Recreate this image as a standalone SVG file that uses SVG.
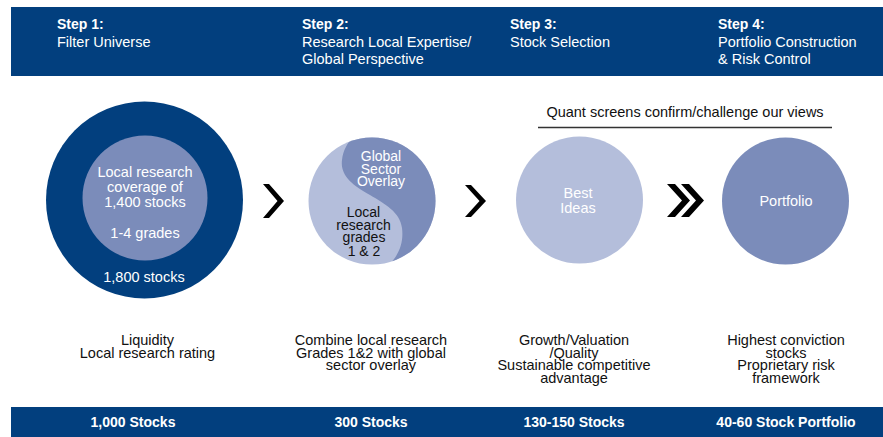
<svg xmlns="http://www.w3.org/2000/svg" width="883" height="437" viewBox="0 0 883 437">
<style>
text{font-family:"Liberation Sans",Arial,sans-serif;font-size:14.5px}
.w{fill:#ffffff}
.k{fill:#111111}
.b{font-weight:bold;font-size:14px}
.c{text-anchor:middle}
.t{font-size:14px}
.navy{fill:#023f7e}
.mid{fill:#7b8cba}
.lite{fill:#b4bedb}
.chev{fill:#000000}
</style>
<defs>
<clipPath id="c2clip"><circle cx="372" cy="201" r="63.5"/></clipPath>
</defs>
<rect width="883" height="437" fill="#ffffff"/>
<g id="header">
<rect class="navy" x="11" y="7" width="872" height="69"/>
<text class="w b" x="57" y="29">Step 1:</text>
<text class="w" x="57" y="47">Filter Universe</text>
<text class="w b" x="302" y="29">Step 2:</text>
<text class="w" x="302" y="47">Research Local Expertise/</text>
<text class="w" x="302" y="64">Global Perspective</text>
<text class="w b" x="510" y="29">Step 3:</text>
<text class="w" x="510" y="47">Stock Selection</text>
<text class="w b" x="718" y="29">Step 4:</text>
<text class="w" x="718" y="47">Portfolio Construction</text>
<text class="w" x="718" y="64">&amp; Risk Control</text>
</g>
<g id="node1">
<circle class="navy" cx="144.5" cy="200" r="98.5"/>
<circle class="mid" cx="145" cy="198" r="62.5"/>
<text class="w c" x="145" y="177">Local research</text>
<text class="w c" x="145" y="192">coverage of</text>
<text class="w c" x="145" y="207">1,400 stocks</text>
<text class="w c" x="145" y="238">1-4 grades</text>
<text class="w c" x="144" y="282">1,800 stocks</text>
</g>
<g id="node2">
<circle class="lite" cx="372" cy="201" r="63.5"/>
<path class="mid" clip-path="url(#c2clip)" d="M354,136 L460,110 L460,300 L388,266 C398,256 404,244 402,228 C400,212 385,204 370,195 C352,185 340,175 342,160 C343,150 348,142 354,136 Z"/>
<text class="w c t" x="381" y="161">Global</text>
<text class="w c t" x="381" y="173.5">Sector</text>
<text class="w c t" x="381" y="186">Overlay</text>
<text class="k c t" x="363.5" y="217">Local</text>
<text class="k c t" x="363.5" y="229.5">research</text>
<text class="k c t" x="364" y="242">grades</text>
<text class="k c t" x="364" y="256">1 &amp; 2</text>
</g>
<g id="node3">
<circle class="lite" cx="579.5" cy="200" r="63.5"/>
<text class="w c" x="578" y="198">Best</text>
<text class="w c" x="578" y="213">Ideas</text>
</g>
<g id="node4">
<circle class="mid" cx="785.5" cy="201" r="63.5"/>
<text class="w c" x="786" y="206">Portfolio</text>
</g>
<g id="quant">
<text class="k c" x="685" y="117">Quant screens confirm/challenge our views</text>
<line x1="538" y1="127.5" x2="832" y2="127.5" stroke="#333333" stroke-width="1.5"/>
</g>
<g id="connectors">
<polygon class="chev" points="263,184 269,184 284,201 269,218 263,218 277.5,201"/>
<polygon class="chev" points="465,185 471,185 486,201 471,217 465,217 479.5,201"/>
<polygon class="chev" points="667,184 675,184 690,200.5 675,217 667,217 682,200.5"/>
<polygon class="chev" points="681,184 689,184 704,200.5 689,217 681,217 696,200.5"/>
</g>
<g id="descriptions">
<text class="k c" x="147.5" y="345">Liquidity</text>
<text class="k c" x="147.5" y="357.5">Local research rating</text>
<text class="k c" x="371" y="345">Combine local research</text>
<text class="k c" x="371" y="357.5">Grades 1&amp;2 with global</text>
<text class="k c" x="371" y="370">sector overlay</text>
<text class="k c" x="574" y="345">Growth/Valuation</text>
<text class="k c" x="574" y="357.5">/Quality</text>
<text class="k c" x="574" y="370">Sustainable competitive</text>
<text class="k c" x="574" y="382.5">advantage</text>
<text class="k c" x="786" y="345">Highest conviction</text>
<text class="k c" x="786" y="357.5">stocks</text>
<text class="k c" x="786" y="370">Proprietary risk</text>
<text class="k c" x="786" y="382.5">framework</text>
</g>
<g id="footer">
<rect class="navy" x="11" y="407" width="872" height="30"/>
<text class="w b c" x="133" y="427">1,000 Stocks</text>
<text class="w b c" x="371" y="427">300 Stocks</text>
<text class="w b c" x="574" y="427">130-150 Stocks</text>
<text class="w b c" x="786" y="427">40-60 Stock Portfolio</text>
</g>
</svg>
